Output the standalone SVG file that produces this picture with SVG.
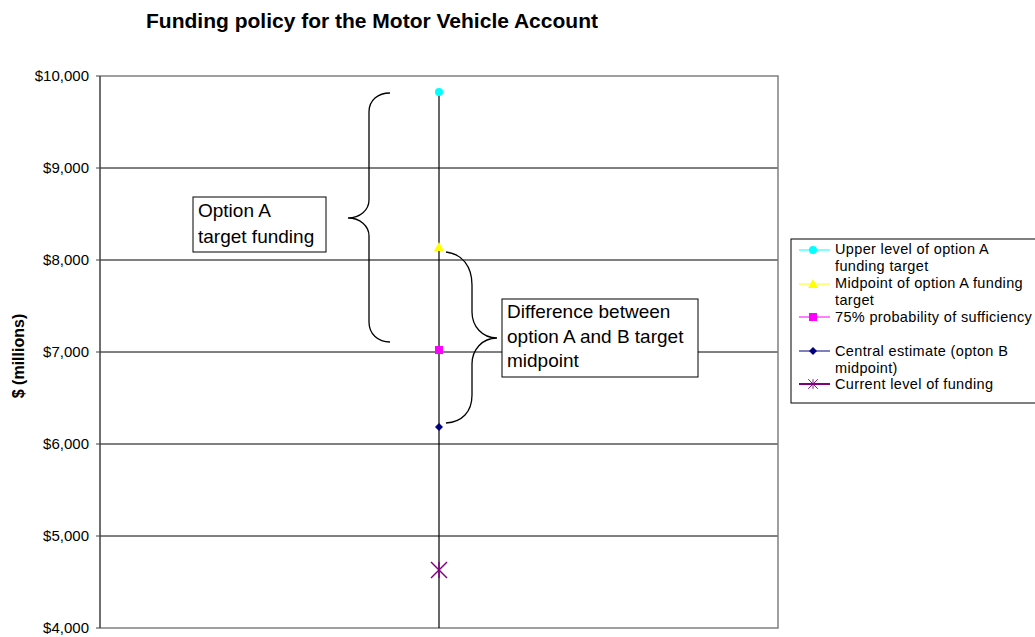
<svg xmlns="http://www.w3.org/2000/svg" width="1035" height="637" viewBox="0 0 1035 637">
<style>
text{font-family:"Liberation Sans",Arial,sans-serif;fill:#000}
.tick{font-size:15px;text-anchor:end}
.leg{font-size:14.5px;letter-spacing:0.35px}
.box{font-size:19px}
.grid{stroke:#000;stroke-width:1}
.brace{fill:none;stroke:#000;stroke-width:1.3}
.frame{fill:none;stroke:#808080;stroke-width:1.5}
</style>
<defs>
<circle id="mCirc" r="4" fill="#00FFFF"/>
<polygon id="mTri" points="0,-5 5,4 -5,4" fill="#FFFF00"/>
<rect id="mSq" x="-4" y="-4" width="8" height="8" fill="#FF00FF"/>
<polygon id="mDia" points="0,-4 4,0 0,4 -4,0" fill="#000080"/>
<g id="mStar" stroke="#800080" stroke-width="1.5"><line x1="-8" y1="-8" x2="8" y2="8"/><line x1="-8" y1="8" x2="8" y2="-8"/><line x1="0" y1="-8" x2="0" y2="8"/></g>
</defs>
<rect width="1035" height="637" fill="#fff"/>
<text x="372" y="28" font-size="21" font-weight="bold" text-anchor="middle">Funding policy for the Motor Vehicle Account</text>
<g id="plot">
<g id="gridlines">
<line class="grid" x1="100" y1="168" x2="778" y2="168"/>
<line class="grid" x1="100" y1="260" x2="778" y2="260"/>
<line class="grid" x1="100" y1="352" x2="778" y2="352"/>
<line class="grid" x1="100" y1="444" x2="778" y2="444"/>
<line class="grid" x1="100" y1="536" x2="778" y2="536"/>
</g>
<polyline class="frame" points="100,76 778,76 778,628 100,628"/>
<line x1="100" y1="76" x2="100" y2="628" stroke="#404040" stroke-width="1.5"/>
<g stroke="#404040" stroke-width="1">
<line x1="96" y1="76" x2="100" y2="76"/><line x1="96" y1="168" x2="100" y2="168"/><line x1="96" y1="260" x2="100" y2="260"/><line x1="96" y1="352" x2="100" y2="352"/><line x1="96" y1="444" x2="100" y2="444"/><line x1="96" y1="536" x2="100" y2="536"/><line x1="96" y1="628" x2="100" y2="628"/>
</g>
<text class="tick" x="89" y="81">$10,000</text>
<text class="tick" x="89" y="173">$9,000</text>
<text class="tick" x="89" y="265">$8,000</text>
<text class="tick" x="89" y="357">$7,000</text>
<text class="tick" x="89" y="449">$6,000</text>
<text class="tick" x="89" y="541">$5,000</text>
<text class="tick" x="89" y="633">$4,000</text>
<text x="0" y="0" font-size="16" font-weight="bold" text-anchor="middle" transform="translate(24,356) rotate(-90)">$ (millions)</text>
</g>
<g id="connectors">
<line x1="439" y1="92" x2="439" y2="628" stroke="#000" stroke-width="1.2"/>
<path class="brace" d="M390,93 C378,93 369,100 369,112 L369,200 C369,210 360,218 348,218 C360,218 369,226 369,236 L369,322 C369,334 378,342 390,342"/>
<path class="brace" d="M446,252 C462,254 472,266 472,285 L472,312 C472,326 482,338 497,338 C482,338 472,350 472,364 L472,395 C472,412 462,422 446,423"/>
</g>
<g id="series">
<use href="#mCirc" x="439" y="92"/>
<use href="#mTri" x="439" y="247"/>
<use href="#mSq" x="439" y="350"/>
<use href="#mDia" x="439" y="427"/>
<use href="#mStar" x="439" y="570"/>
</g>
<g id="optionA">
<rect x="193" y="197" width="133" height="55" fill="#fff" stroke="#000" stroke-width="1"/>
<text class="box" x="198" y="217">Option A</text>
<text class="box" x="198" y="243">target funding</text>
</g>
<g id="difference">
<rect x="502" y="299" width="196" height="78" fill="#fff" stroke="#000" stroke-width="1"/>
<text class="box" x="507" y="318">Difference between</text>
<text class="box" x="507" y="343">option A and B target</text>
<text class="box" x="507" y="367">midpoint</text>
</g>
<g id="legend">
<rect x="791" y="239" width="250" height="164" fill="#fff" stroke="#000" stroke-width="1"/>
<line x1="799" y1="250" x2="830" y2="250" stroke="#00FFFF" stroke-width="1"/><use href="#mCirc" x="813" y="250"/>
<text class="leg" x="835" y="254">Upper level of option A</text>
<text class="leg" x="835" y="271">funding target</text>
<line x1="799" y1="284" x2="830" y2="284" stroke="#FFFF00" stroke-width="1"/><use href="#mTri" x="813" y="284"/>
<text class="leg" x="835" y="288">Midpoint of option A funding</text>
<text class="leg" x="835" y="305">target</text>
<line x1="799" y1="317" x2="830" y2="317" stroke="#FF00FF" stroke-width="1"/><use href="#mSq" x="813" y="317"/>
<text class="leg" x="835" y="322">75% probability of sufficiency</text>
<line x1="799" y1="351" x2="830" y2="351" stroke="#000080" stroke-width="1"/><use href="#mDia" x="813" y="351"/>
<text class="leg" x="835" y="356">Central estimate (opton B</text>
<text class="leg" x="835" y="373">midpoint)</text>
<line x1="799" y1="384" x2="830" y2="384" stroke="#800080" stroke-width="2"/><g transform="translate(813,384) scale(0.6)"><use href="#mStar"/></g>
<text class="leg" x="835" y="389">Current level of funding</text>
</g>
</svg>
